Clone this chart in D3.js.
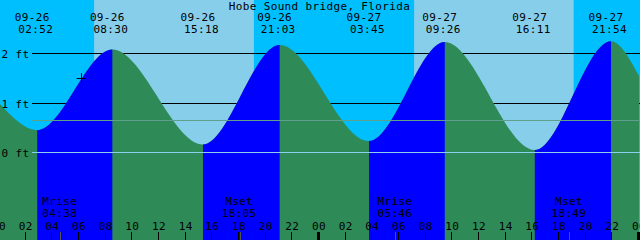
<!DOCTYPE html>
<html>
<head>
<meta charset="utf-8">
<script src="https://cdn.jsdelivr.net/npm/d3@7"></script>
<style>
  body { margin: 0; background: #fff; }
  svg { display: block; }
  text { font-family: "DejaVu Sans Mono", monospace; font-size: 11px; letter-spacing: 0.35px; fill: #000; }
</style>
</head>
<body>
<svg id="tide" width="640" height="240"></svg>
<script>
var title = "Hobe Sound bridge, Florida";

// tide curve: window edges + high/low events
var tideTimes = ["09-26 00:00", "09-26 02:52", "09-26 08:30", "09-26 15:18", "09-26 21:03",
                 "09-27 03:45", "09-27 09:26", "09-27 16:11", "09-27 21:54", "09-28 00:00"];
var tideLevels = [1.0, 0.45, 2.08, 0.16, 2.17, 0.23, 2.23, 0.05, 2.25, 1.55];

var sunTimes = ["09-26 07:08", "09-26 19:07", "09-27 07:08", "09-27 19:06"];

var moonNames = ["Mrise", "Mset", "Mrise", "Mset"];
var moonTimes = ["09-26 04:38", "09-26 18:05", "09-27 05:46", "09-27 18:49"];

var levelTicks = [0, 1, 2];
var levelLabels = ["0 ft", "1 ft", "2 ft"];
var meanLevel = 0.65;

var hourLabels = ["00", "02", "04", "06", "08", "10", "12", "14", "16", "18", "20", "22",
                  "00", "02", "04", "06", "08", "10", "12", "14", "16", "18", "20", "22", "00"];

var nowTime = "09-26 06:10", nowLevel = 1.5;

var parse = d3.utcParse("%Y-%m-%d %H:%M");
function t(s) { return parse("2000-" + s); }

var svg = d3.select("#tide"),
  width = 640, height = 240;

var x = d3.scaleUtc()
  .domain([t("09-26 00:00"), t("09-28 00:00")])
  .range([-1, 639]);

var y = d3.scaleLinear()
  .domain([0, 2])
  .range([152.5, 53.5]);

function crisp(v) { return Math.floor(v) + 0.5; }

var tide = tideTimes.map((s, i) => ({ time: t(s), level: tideLevels[i] }));

// sky: night then day bands
svg.append("rect").attr("width", width).attr("height", height).attr("fill", "#00bfff");
for (var i = 0; i < sunTimes.length; i += 2) {
  svg.append("rect")
    .attr("x", x(t(sunTimes[i])))
    .attr("width", x(t(sunTimes[i + 1])) - x(t(sunTimes[i])))
    .attr("height", height)
    .attr("fill", "#87ceeb");
}

// level lines behind the water
svg.selectAll("line.level").data(levelTicks.filter(d => d > 0))
  .enter().append("line")
  .attr("class", "level")
  .attr("x1", 32).attr("x2", width)
  .attr("y1", d => crisp(y(d))).attr("y2", d => crisp(y(d)))
  .attr("stroke", "#000");

var area = d3.area()
  .x(d => x(d.time))
  .y0(height)
  .y1(d => y(d.level))
  .curve(d3.curveMonotoneX);

svg.append("path").datum(tide).attr("d", area).attr("fill", "#2e8b57");

// rising stretches (low -> high) in blue
var defs = svg.append("defs");
tide.forEach(function(d, i) {
  if (i === 0 || i >= tide.length - 2) return;
  var next = tide[i + 1];
  if (next.level <= d.level) return;
  var id = "rise" + i;
  defs.append("clipPath").attr("id", id).append("rect")
    .attr("x", x(d.time)).attr("width", x(next.time) - x(d.time))
    .attr("y", 0).attr("height", height);
  svg.append("path").datum(tide).attr("d", area)
    .attr("fill", "#0000ff")
    .attr("clip-path", "url(#" + id + ")");
});

svg.append("line")
  .attr("x1", 32).attr("x2", width)
  .attr("y1", crisp(y(meanLevel))).attr("y2", crisp(y(meanLevel)))
  .attr("stroke", "#5fa08c");

svg.append("line")
  .attr("x1", 32).attr("x2", width)
  .attr("y1", crisp(y(0))).attr("y2", crisp(y(0)))
  .attr("stroke", "#8bd0ee");

svg.selectAll("text.level").data(levelTicks)
  .enter().append("text")
  .attr("class", "level")
  .attr("x", 1.5)
  .attr("y", d => crisp(y(d)) + 4)
  .text((d, i) => levelLabels[i]);

svg.append("text")
  .attr("x", 319.5).attr("y", 9.5)
  .attr("text-anchor", "middle")
  .text(title);

// high / low labels
var events = tide.slice(1, -1);
var eventLabels = svg.append("g").attr("text-anchor", "middle");
eventLabels.selectAll("text.date").data(events)
  .enter().append("text")
  .attr("class", "date")
  .attr("x", d => x(d.time) - 5).attr("y", 21)
  .text(d => d3.utcFormat("%m-%d")(d.time));
eventLabels.selectAll("text.time").data(events)
  .enter().append("text")
  .attr("class", "time")
  .attr("x", d => x(d.time) - 1.5).attr("y", 33)
  .text(d => d3.utcFormat("%H:%M")(d.time));

// moon
var moon = svg.append("g").attr("text-anchor", "middle");
moonTimes.forEach(function(s, i) {
  var mx = x(t(s)) - 1;
  moon.append("text").attr("x", mx).attr("y", 204.5).text(moonNames[i]);
  moon.append("text").attr("x", mx).attr("y", 216.5).text(s.slice(6));
  svg.append("line")
    .attr("x1", crisp(x(t(s)))).attr("x2", crisp(x(t(s))))
    .attr("y1", 232).attr("y2", height)
    .attr("stroke", "#555");
});

// hour axis
var hours = d3.utcHour.every(2).range(t("09-26 00:00"), d3.utcHour.offset(t("09-28 00:00"), 1));
var axis = svg.append("g");
axis.selectAll("text").data(hours)
  .enter().append("text")
  .attr("x", d => x(d)).attr("y", 229.5)
  .attr("text-anchor", "middle")
  .text((d, i) => hourLabels[i]);
axis.selectAll("rect").data(hours)
  .enter().append("rect")
  .attr("x", d => d.getUTCHours() === 0 ? Math.round(x(d)) - 2 : Math.round(x(d)) - 1)
  .attr("width", d => d.getUTCHours() === 0 ? 3 : 1)
  .attr("y", 232).attr("height", 8)
  .attr("fill", "#000");

// current time marker
var nx = x(t(nowTime)), ny = y(nowLevel);
svg.append("path")
  .attr("d", "M" + (nx - 4.5) + "," + crisp(ny) + "H" + (nx + 4.5) +
             "M" + crisp(nx) + "," + (ny - 5) + "V" + (ny + 5))
  .attr("stroke", "#000");
</script>
</body>
</html>
